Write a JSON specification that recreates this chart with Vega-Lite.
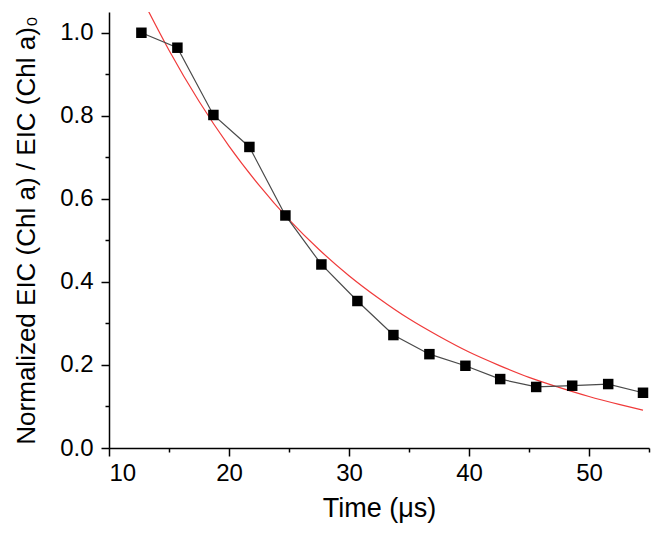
{
  "$schema": "https://vega.github.io/schema/vega-lite/v6.json",
  "width": 540,
  "height": 436,
  "autosize": {"type": "none"},
  "padding": {"left": 109, "top": 12, "right": 13, "bottom": 90},
  "background": "white",
  "config": {
    "view": {"stroke": null},
    "font": "Liberation Sans",
    "axis": {
      "domainColor": "black",
      "domainWidth": 1.5,
      "tickColor": "black",
      "tickWidth": 1.5,
      "grid": false,
      "labelColor": "black",
      "titleColor": "black",
      "labelFont": "Liberation Sans",
      "titleFont": "Liberation Sans",
      "labelFontSize": 24,
      "titleFontSize": 26,
      "titleFontWeight": "normal"
    }
  },
  "datasets": {
    "obs": [
      {"t": 12.7, "v": 1.0},
      {"t": 15.7, "v": 0.964},
      {"t": 18.7, "v": 0.802},
      {"t": 21.7, "v": 0.725},
      {"t": 24.7, "v": 0.56},
      {"t": 27.7, "v": 0.442},
      {"t": 30.7, "v": 0.354},
      {"t": 33.7, "v": 0.272},
      {"t": 36.7, "v": 0.226},
      {"t": 39.7, "v": 0.198},
      {"t": 42.6, "v": 0.166},
      {"t": 45.6, "v": 0.147},
      {"t": 48.6, "v": 0.150},
      {"t": 51.6, "v": 0.154},
      {"t": 54.5, "v": 0.133}
    ],
    "fit": [
      {"t": 13.25, "v": 1.054},
      {"t": 15, "v": 0.958},
      {"t": 17.5, "v": 0.835},
      {"t": 20, "v": 0.727},
      {"t": 22.5, "v": 0.633},
      {"t": 25, "v": 0.55},
      {"t": 27.5, "v": 0.478},
      {"t": 30, "v": 0.415},
      {"t": 32.5, "v": 0.36},
      {"t": 35, "v": 0.311},
      {"t": 37.5, "v": 0.269},
      {"t": 40, "v": 0.231},
      {"t": 42.5, "v": 0.199},
      {"t": 45, "v": 0.17},
      {"t": 47.5, "v": 0.146},
      {"t": 50, "v": 0.124},
      {"t": 52.5, "v": 0.105},
      {"t": 54.5, "v": 0.091}
    ]
  },
  "resolve": {"axis": {"x": "independent", "y": "independent"}},
  "layer": [
    {
      "data": {"name": "fit"},
      "mark": {"type": "line", "color": "#f03a3a", "strokeWidth": 1.2, "interpolate": "monotone", "clip": true},
      "encoding": {
        "x": {"field": "t", "type": "quantitative", "scale": {"domain": [10, 55], "nice": false, "zero": false},
          "axis": {"orient": "bottom", "values": [15, 25, 35, 45, 55], "labels": false, "title": null, "tickSize": 4, "domain": false}},
        "y": {"field": "v", "type": "quantitative", "scale": {"domain": [0, 1.05], "nice": false},
          "axis": {"orient": "left", "values": [0.1, 0.3, 0.5, 0.7, 0.9], "labels": false, "title": null, "tickSize": 4, "domain": false}}
      }
    },
    {
      "data": {"name": "obs"},
      "mark": {"type": "line", "color": "#4a4a4a", "strokeWidth": 1.2},
      "encoding": {
        "x": {"field": "t", "type": "quantitative",
          "axis": {"orient": "bottom", "values": [10, 20, 30, 40, 50], "tickSize": 8, "labelPadding": 5, "title": "Time (μs)", "titlePadding": 10, "titleFontSize": 27}},
        "y": {"field": "v", "type": "quantitative",
          "axis": {"orient": "left", "values": [0, 0.2, 0.4, 0.6, 0.8, 1.0], "format": ".1f", "tickSize": 8, "labelPadding": 8, "title": "Normalized EIC (Chl a) / EIC (Chl a)₀", "titlePadding": 20}}
      }
    },
    {
      "data": {"name": "obs"},
      "mark": {"type": "square", "color": "black", "opacity": 1, "size": 110, "filled": true},
      "encoding": {
        "x": {"field": "t", "type": "quantitative", "axis": null},
        "y": {"field": "v", "type": "quantitative", "axis": null}
      }
    }
  ]
}
